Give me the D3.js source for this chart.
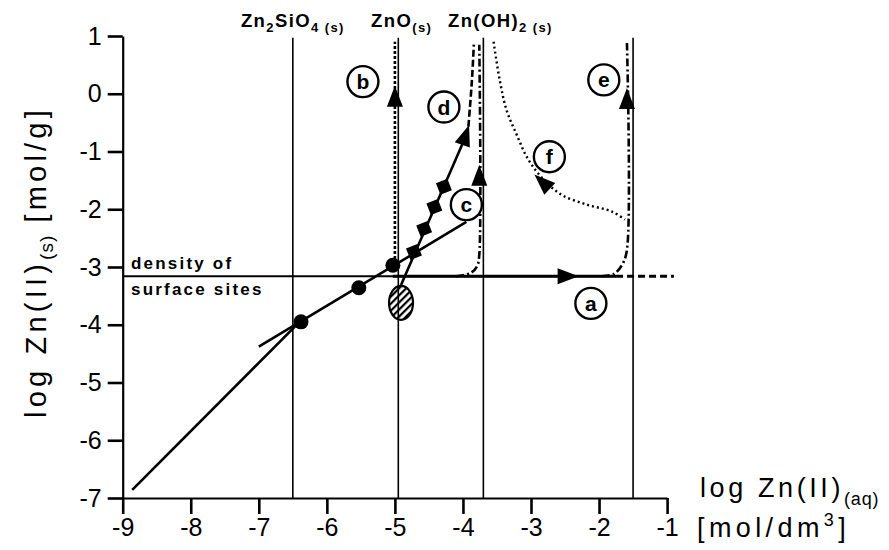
<!DOCTYPE html>
<meta charset="utf-8">
<script src="https://d3js.org/d3.v7.min.js"></script>
<style>
  body { margin: 0; background: #fff; }
  text { font-family: "Liberation Sans", Arial, sans-serif; fill: #000; }
</style>
<div id="chart"></div>
<script>
// axis ticks
var xTicks = [-9, -8, -7, -6, -5, -4, -3, -2, -1];
var yTicks = [1, 0, -1, -2, -3, -4, -5, -6, -7];

// solubility limits of the solid phases (log Zn(aq))
var phaseX = [-6.5, -4.95, -3.7, -1.5];
var phaseTop = 0.97;

// density of surface sites (log mol/g)
var densityY = -3.16;

// isotherm lines and measured points
var steepLine = [[-8.86, -6.86], [-6.4, -3.95]];
var shallowLine = [[-7.0, -4.38], [-3.95, -2.22]];
var circlePts = [[-6.38, -3.95], [-5.53, -3.36], [-5.03, -2.97]];
var diamondPts = [[-4.72, -2.74], [-4.57, -2.34], [-4.42, -1.96], [-4.28, -1.61]];
var ellipsePt = [-4.91, -3.62];

// reaction paths a-f
var pathA = [[-5.03, -3.16], [-1.75, -3.16]];
var pathAdash = [[-1.75, -3.16], [-0.9, -3.16]];
var pathB = [[-5.0, -2.95], [-5.0, 0.9]];
var pathC = [[-4.1, -3.16], [-3.88, -3.1], [-3.79, -2.98], [-3.76, -2.79], [-3.76, 0.85]];
var pathD = [[-4.91, -3.31], [-4.0, -0.85]];
var pathDdash = [[-3.92, -0.57], [-3.87, 0.2], [-3.84, 0.85]];
var pathE = [[-1.96, -3.16], [-1.78, -3.12], [-1.66, -2.96], [-1.59, -2.7], [-1.59, 0.88]];
var pathF = [[-3.55, 0.9], [-3.46, 0.24], [-3.36, -0.28], [-3.21, -0.71], [-3.04, -1.14],
             [-2.81, -1.49], [-2.55, -1.75], [-2.18, -1.92], [-1.81, -2.04], [-1.62, -2.18]];

// arrow heads: tip and a point behind it
var arrowTips = [[-2.3, -3.16], [-5.0, 0.14], [-3.76, -1.23], [-3.91, -0.54], [-1.59, 0.1], [-2.95, -1.4]];
var arrowFrom = [[-2.6, -3.16], [-5.0, -0.3], [-3.76, -1.6], [-4.0, -0.85], [-1.59, -0.3], [-2.75, -1.62]];

// circled letters
var pathNames = ["a", "b", "c", "d", "e", "f"];
var pathLabelPos = [[-2.12, -3.63], [-5.47, 0.21], [-3.95, -1.92], [-4.28, -0.23], [-1.93, 0.24], [-2.73, -1.09]];

var width = 889, height = 550;

var svg = d3.select("#chart").append("svg")
  .attr("width", width)
  .attr("height", height);

var x = d3.scaleLinear().domain([-9, -1]).range([122.7, 667.1]);
var y = d3.scaleLinear().domain([-7, 1]).range([498, 36]);

var line = d3.line().x(function (d) { return x(d[0]); }).y(function (d) { return y(d[1]); });
var curve = d3.line().curve(d3.curveCatmullRom).x(function (d) { return x(d[0]); }).y(function (d) { return y(d[1]); });

// hatch for the ellipse
svg.append("defs").append("pattern")
  .attr("id", "hatch")
  .attr("patternUnits", "userSpaceOnUse")
  .attr("width", 5).attr("height", 5)
  .attr("patternTransform", "rotate(45)")
  .append("rect")
  .attr("width", 2.2).attr("height", 5)
  .attr("fill", "#000");

// axes (plain hyphen for the minus, like the original)
var fmt = function (d) { return String(d); };
var yAxis = svg.append("g")
  .attr("transform", "translate(" + x(-9) + ",0)")
  .call(d3.axisLeft(y).tickValues(yTicks).tickFormat(fmt).tickSize(15).tickSizeOuter(0).tickPadding(6));
var xAxis = svg.append("g")
  .attr("transform", "translate(0," + y(-7) + ")")
  .call(d3.axisBottom(x).tickValues(xTicks).tickFormat(fmt).tickSize(16).tickSizeOuter(0).tickPadding(4));

[xAxis, yAxis].forEach(function (ax) {
  ax.select(".domain").attr("stroke-width", 2.2);
  ax.selectAll(".tick line").attr("stroke-width", 2.6);
  ax.selectAll(".tick text")
    .style("font-size", "25px")
    .attr("fill", "#000");
});

// phase boundaries
svg.selectAll(".phase")
  .data(phaseX)
  .enter().append("line")
  .attr("x1", function (d) { return x(d); })
  .attr("x2", function (d) { return x(d); })
  .attr("y1", y(phaseTop))
  .attr("y2", y(-7))
  .attr("stroke", "#000")
  .attr("stroke-width", 1.6);

// density of surface sites
svg.append("line")
  .attr("x1", x(-9)).attr("x2", x(-1.75))
  .attr("y1", y(densityY)).attr("y2", y(densityY))
  .attr("stroke", "#000").attr("stroke-width", 1.8);

function drawPath(data, gen, w, dash) {
  svg.append("path")
    .datum(data)
    .attr("d", gen)
    .attr("fill", "none")
    .attr("stroke", "#000")
    .attr("stroke-width", w)
    .attr("stroke-dasharray", dash || null);
}

drawPath(steepLine, line, 2.6);
drawPath(shallowLine, line, 2.6);
drawPath(pathD, line, 2.6);
drawPath(pathDdash, curve, 2.6, "7,3");
drawPath(pathA, line, 2.8);
drawPath(pathAdash, line, 3, "7,4");
drawPath(pathB, line, 2.6, "3,2");
drawPath(pathC, curve, 2.6, "8,3,2,3");
drawPath(pathE, curve, 2.6, "8,3,2,3");
drawPath(pathF, curve, 2.4, "2,3");

// markers
svg.selectAll(".dot")
  .data(circlePts)
  .enter().append("circle")
  .attr("cx", function (d) { return x(d[0]); })
  .attr("cy", function (d) { return y(d[1]); })
  .attr("r", 7.5)
  .attr("fill", "#000");

var dAngle = Math.atan2(y(pathD[1][1]) - y(pathD[0][1]), x(pathD[1][0]) - x(pathD[0][0])) * 180 / Math.PI;
svg.selectAll(".diamond")
  .data(diamondPts)
  .enter().append("path")
  .attr("d", d3.symbol().type(d3.symbolSquare).size(150))
  .attr("transform", function (d) { return "translate(" + x(d[0]) + "," + y(d[1]) + ") rotate(" + (dAngle + 45) + ")"; })
  .attr("fill", "#000");

svg.append("ellipse")
  .attr("cx", x(ellipsePt[0]))
  .attr("cy", y(ellipsePt[1]))
  .attr("rx", 12).attr("ry", 17)
  .attr("fill", "url(#hatch)")
  .attr("stroke", "#000")
  .attr("stroke-width", 2.2);

// arrow heads
svg.selectAll(".arrow")
  .data(arrowTips)
  .enter().append("path")
  .attr("d", "M0,0L-21,-8L-21,8Z")
  .attr("transform", function (d, i) {
    var f = arrowFrom[i];
    var a = Math.atan2(y(d[1]) - y(f[1]), x(d[0]) - x(f[0])) * 180 / Math.PI;
    return "translate(" + x(d[0]) + "," + y(d[1]) + ") rotate(" + a + ")";
  })
  .attr("fill", "#000");

// circled letters
var lab = svg.selectAll(".lab")
  .data(pathNames)
  .enter().append("g")
  .attr("transform", function (d, i) { return "translate(" + x(pathLabelPos[i][0]) + "," + y(pathLabelPos[i][1]) + ")"; });
lab.append("circle")
  .attr("r", 15.5)
  .attr("fill", "#fff")
  .attr("stroke", "#000")
  .attr("stroke-width", 2.4);
lab.append("text")
  .attr("text-anchor", "middle")
  .attr("dy", "0.36em")
  .style("font-size", "21px")
  .style("font-weight", "bold")
  .text(function (d) { return d; });

// phase names at top
function phaseLabel(px, parts) {
  var t = svg.append("text")
    .attr("x", px).attr("y", 27)
    .attr("text-anchor", "middle")
    .style("font-size", "18.5px")
    .style("font-weight", "bold")
    .style("letter-spacing", "1.4px");
  parts.forEach(function (p) {
    t.append("tspan")
      .attr("dy", p[1])
      .style("font-size", p[2])
      .text(p[0]);
  });
}
phaseLabel(x(-6.5), [["Zn", 0, "18.5px"], ["2", 5, "13px"], ["SiO", -5, "18.5px"], ["4 (s)", 5, "13px"]]);
phaseLabel(x(-4.9), [["ZnO", 0, "18.5px"], ["(s)", 5, "13px"]]);
phaseLabel(x(-3.45), [["Zn(OH)", 0, "18.5px"], ["2 (s)", 5, "13px"]]);

// density label
svg.append("text")
  .attr("x", 131).attr("y", y(densityY) - 7)
  .style("font-size", "17px").style("font-weight", "bold")
  .style("letter-spacing", "2.2px")
  .text("density of");
svg.append("text")
  .attr("x", 131).attr("y", y(densityY) + 19)
  .style("font-size", "17px").style("font-weight", "bold")
  .style("letter-spacing", "2.2px")
  .text("surface sites");

// axis titles
var yt = svg.append("text")
  .attr("transform", "translate(46,262) rotate(-90)")
  .attr("text-anchor", "middle")
  .style("font-size", "29px")
  .style("letter-spacing", "4.2px");
yt.append("tspan").text("log Zn(II)");
yt.append("tspan").attr("dy", 7).style("font-size", "19px").style("letter-spacing", "1px").text("(s)");
yt.append("tspan").attr("dy", -7).text(" [mol/g]");

var xt = svg.append("text")
  .attr("x", 700).attr("y", 497)
  .style("font-size", "27px")
  .style("letter-spacing", "3.6px");
xt.append("tspan").text("log Zn(II)");
xt.append("tspan").attr("dy", 8).style("font-size", "18px").style("letter-spacing", "0.8px").text("(aq)");

var xu = svg.append("text")
  .attr("x", 697).attr("y", 537)
  .style("font-size", "27px")
  .style("letter-spacing", "4.4px");
xu.append("tspan").text("[mol/dm");
xu.append("tspan").attr("dy", -11).style("font-size", "18px").text("3");
xu.append("tspan").attr("dy", 11).text("]");
</script>
